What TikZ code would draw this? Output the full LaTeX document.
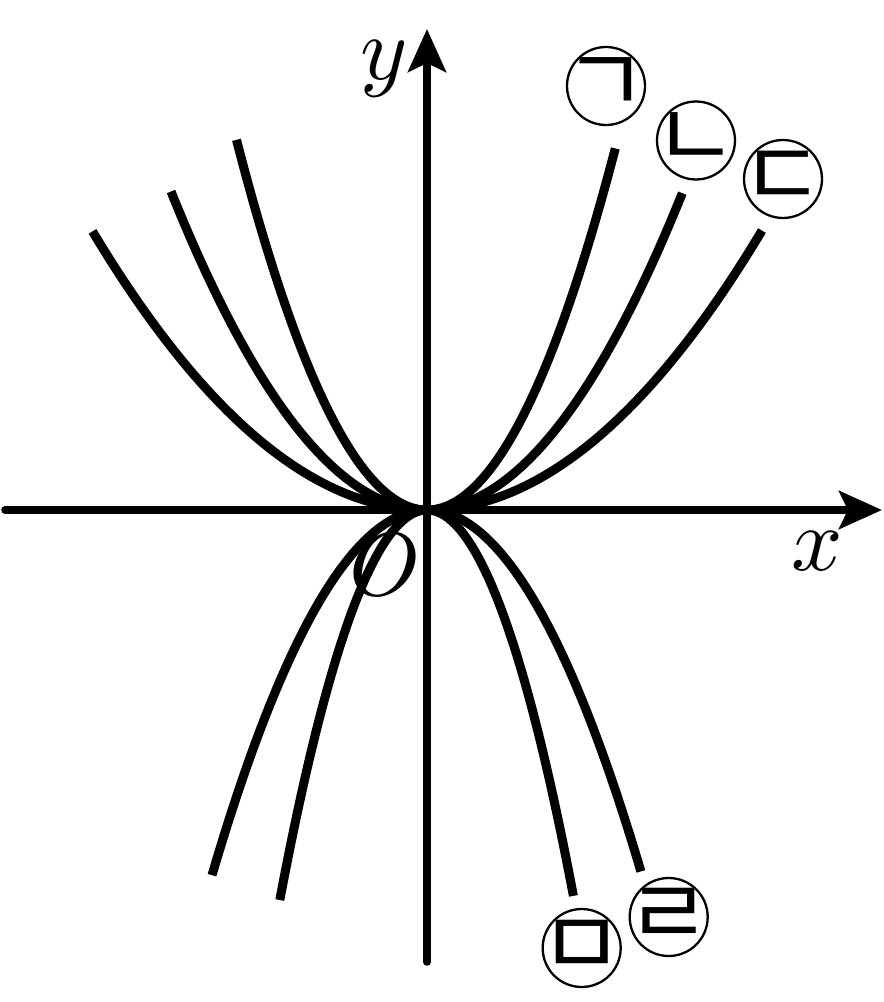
\documentclass[tikz,border=0pt]{standalone}
\usepackage{fontspec}
\newfontfamily\kr{Noto Sans CJK KR}
\usetikzlibrary{arrows.meta}
\begin{document}
\begin{tikzpicture}[x=1pt,y=1pt,
  axis/.style={line width=7.5pt,line cap=round,-{Stealth[length=43pt,width=38pt,inset=9pt]}},
  curve/.style={line width=9pt,samples=120},
  jamo/.style={draw,circle,line width=2.3pt,minimum size=78pt,inner sep=-40pt,font=\kr\fontsize{92}{94}\selectfont},
  lbl/.style={inner sep=0pt,scale=9,font=\fontsize{10}{12}\selectfont}]
\useasboundingbox (-427,-492) rectangle (457,510);
% axes
\coordinate (xl) at (-422,0);
\coordinate (xr) at (455,0);
\coordinate (yb) at (0,-452);
\coordinate (yt) at (0,481);
\draw[axis] (xl) -- (xr);
\draw[axis] (yb) -- (yt);
% curves
\draw[curve,domain=-1.905:1.884] plot ({100*\x},{102*\x*\x});
\draw[curve,domain=-2.56:2.555] plot ({100*\x},{48.6*\x*\x});
\draw[curve,domain=-3.345:3.35] plot ({100*\x},{24.9*\x*\x});
\draw[curve,domain=-2.15:2.14] plot ({100*\x},{-79*\x*\x});
\draw[curve,domain=-1.472:1.465] plot ({100*\x},{-180*\x*\x});
% labels
\node[lbl] (ly) at (-43,441) {$y$};
\node[lbl] (lx) at (390,-41) {$x$};
\node[lbl] (lo) at (-42,-55) {$O$};
\node[jamo] (g) at (179,424) {ㄱ};
\node[jamo] (n) at (269,369.5) {ㄴ};
\node[jamo] (d) at (356,331) {ㄷ};
\node[jamo] (r) at (241.7,-407) {ㄹ};
\node[jamo] (m) at (154.7,-438) {ㅁ};
\end{tikzpicture}
\end{document}
